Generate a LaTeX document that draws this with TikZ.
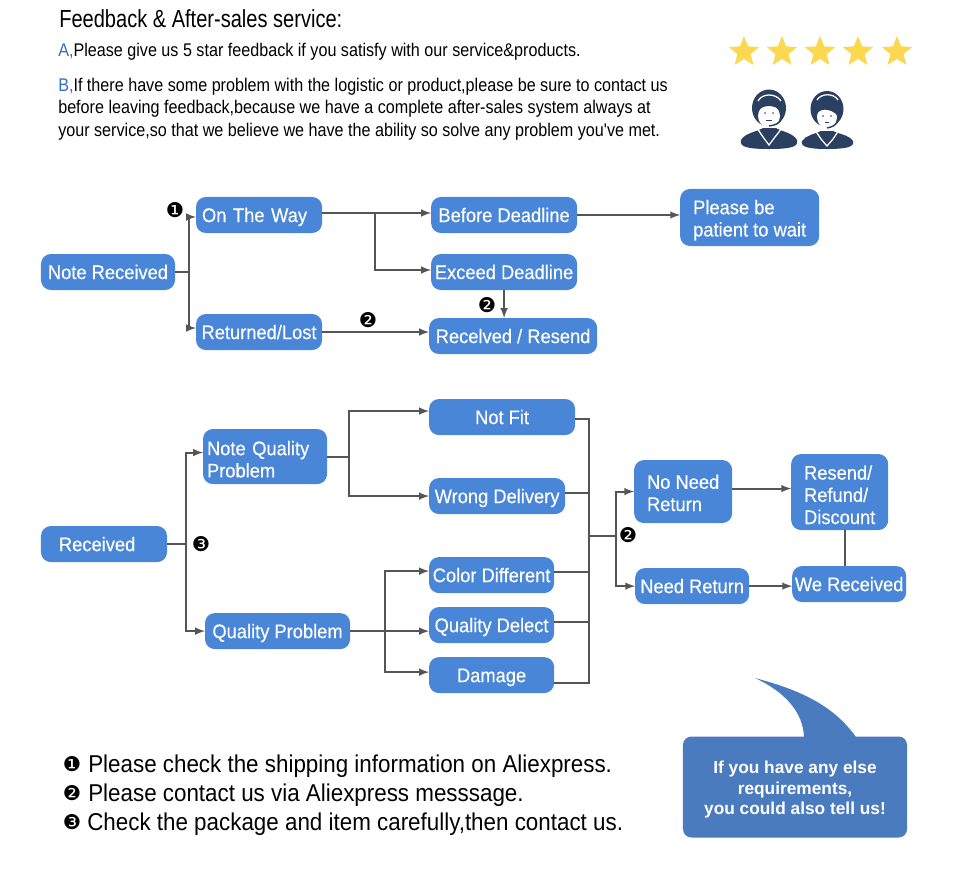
\documentclass[tikz,border=0pt]{standalone}
\usepackage{fontspec}
\setmainfont{Liberation Sans}
\newfontfamily\boxfont[FakeStretch=0.93,FakeBold=0.25]{Liberation Sans}
\newfontfamily\headfont[FakeStretch=0.88]{Liberation Sans}
\newfontfamily\titlefont[FakeStretch=0.81]{Liberation Sans}
\newfontfamily\legendfont[FakeStretch=0.92]{Liberation Sans}
\newfontfamily\dingfont{DejaVu Sans}
\usetikzlibrary{shapes.geometric, arrows.meta, positioning, calc}
\definecolor{boxblue}{HTML}{4A86D8}
\definecolor{linegray}{HTML}{555555}
\definecolor{callblue}{HTML}{4A7BBE}
\definecolor{stargold}{HTML}{FBD84F}
\definecolor{agentnavy}{HTML}{2B4060}
\definecolor{letterblue}{HTML}{2F6FC4}
\newcommand{\toproom}[1]{\rule{0pt}{#1}}

\begin{document}
\begin{tikzpicture}[
      x=0.025cm, y=-0.025cm,
      basebox/.style={fill=boxblue, text=white, rounded corners=7pt, align=center, inner xsep=0pt, inner ysep=0pt,
        outer sep=0pt, minimum height=0.9cm, font=\boxfont\fontsize{14}{15.8}\selectfont},
      flowbox/.style={basebox, text height=13pt, text depth=3pt},
      arrow/.style={-latex, line width=1.4pt, draw=linegray},
      plainline/.style={line width=1.4pt, draw=linegray},
      numlabel/.style={inner sep=0pt, font=\dingfont\fontsize{14.5}{15}\selectfont},
      headline/.style={anchor=base west, inner sep=0pt, font=\headfont\fontsize{13.05}{16}\selectfont, align=left},
      legendline/.style={anchor=base west, inner sep=0pt, font=\legendfont\fontsize{17.3}{18}\selectfont},
      goldstar/.style={star, star points=5, star point ratio=2.3, fill=stargold, minimum size=0.8cm, inner sep=0pt}
    ]
      \useasboundingbox (0,0) rectangle (960,871);

      % Header text
      \node (title) [anchor=base west, inner sep=0pt, font=\titlefont\fontsize{17.6}{18}\selectfont] at (59,27) {Feedback \& After-sales service:};
      \node (pointa) [headline] at (58,56) {\textcolor{letterblue}{A,}Please give us 5 star feedback if you satisfy with our service\&products.};
      \node (pointb) [headline, anchor=north west] at (58,77.5) {\textcolor{letterblue}{B,}If there have some problem with the logistic or product,please be sure to contact us\\
        before leaving feedback,because we have a complete after-sales system always at\\
        your service,so that we believe we have the ability so solve any problem you've met.};

      % Stars
      \node (star1) [goldstar] at (744,52) {};
      \node (star2) [goldstar] at (782,52) {};
      \node (star3) [goldstar] at (820,52) {};
      \node (star4) [goldstar] at (858,52) {};
      \node (star5) [goldstar] at (897,52) {};

      % Agent left
      \fill[agentnavy] (741,140) .. controls (745,133) and (756,132) .. (763,128) -- (776,128) .. controls (783,132) and (793,133) .. (797,140) .. controls (799,147) and (790,149) .. (769,149) .. controls (748,149) and (739,147) .. (741,140);
      \draw[white, line width=0.9pt] (757,128) -- (763,137) -- (769,145) -- (775,137) -- (782,128);
      \fill[agentnavy] (769,108) ellipse [x radius=17, y radius=18.5];
      \fill[white] (769,116) ellipse [x radius=11, y radius=11.5];
      \fill[agentnavy] (757,112) .. controls (762,104) and (776,104) .. (781,112) -- (781,100) -- (757,100) -- cycle;
      \draw[white, line width=0.9pt] (758,101) .. controls (762,93) and (776,93) .. (781,101);
      \draw[agentnavy, line width=1pt] (781,118) .. controls (780,124) and (775,125) .. (769,126);
      \fill[agentnavy] (765,113) circle (0.9) (773,113) circle (0.9);
      \draw[agentnavy, line width=0.5pt] (766,120) -- (772,120);

      % Agent right
      \fill[agentnavy] (802,141) .. controls (806,135) and (815,134) .. (821,131) -- (833,131) .. controls (839,134) and (849,135) .. (853,141) .. controls (855,147) and (846,149) .. (827,149) .. controls (809,149) and (800,147) .. (802,141);
      \draw[white, line width=0.9pt] (815,130) -- (821,139) -- (827,146) -- (833,139) -- (839,130);
      \fill[agentnavy] (827,109) ellipse [x radius=16.5, y radius=18];
      \fill[white] (827,117) ellipse [x radius=10, y radius=11.5];
      \fill[agentnavy] (816,116) .. controls (818,108) and (830,107) .. (838,116) -- (838,100) -- (816,100) -- cycle;
      \draw[white, line width=0.9pt] (817,100) .. controls (821,93) and (834,93) .. (838,100);
      \draw[agentnavy, line width=1pt] (838,120) .. controls (837,125) and (832,127) .. (827,128);
      \fill[agentnavy] (823,116) circle (0.8) (831,116) circle (0.8);
      \draw[agentnavy, line width=0.5pt] (825,122) -- (829,122);

      % Upper flow nodes
      \node (noterecv) [flowbox, minimum width=3.35cm] at (108,272) {Note Received};
      \node (onway) [flowbox, above right=0.525cm and 0.525cm of noterecv, align=left, inner xsep=0.15cm, text width=2.85cm] {On The Way};
      \node (lostnode) [flowbox, below right=0.6cm and 0.525cm of noterecv, minimum width=3.15cm] {Returned/Lost};
      \node (beforedl) [flowbox, right=2.725cm of onway, minimum width=3.65cm] {Before Deadline};
      \node (exceeddl) [flowbox, below=0.525cm of beforedl, minimum width=3.65cm] {Exceed Deadline};
      \node (resendnode) [flowbox, below right=0.7cm and -3.7cm of exceeddl, minimum width=4.2cm] {Recelved / Resend};
      \node (waitnode) [basebox, above right=-1.225cm and 2.575cm of beforedl, minimum width=3.475cm, minimum height=1.425cm, align=left] {\toproom{14pt}Please be\\patient to wait};

      % Lower flow nodes
      \node (recvnode) [flowbox, below right=5.9cm and -3.35cm of noterecv, align=left, inner xsep=0.45cm, text width=2.25cm] {Received};
      \node (noteqp) [basebox, above right=1.05cm and 0.9cm of recvnode, align=left, inner xsep=0.1cm, text width=2.9cm, minimum height=1.375cm] {\toproom{14pt}Note Quality\\Problem};
      \node (qualprob) [flowbox, below right=1.275cm and 0.95cm of recvnode, minimum width=3.625cm] {Quality Problem};
      \node (notfit) [flowbox, above right=-0.15cm and 2.55cm of noteqp, minimum width=3.65cm] {Not Fit};
      \node (wrongdel) [flowbox, below right=-0.15cm and 2.55cm of noteqp, minimum width=3.4cm] {Wrong Delivery};
      \node (colordiff) [flowbox, above right=0.5cm and 1.975cm of qualprob, minimum width=3.125cm] {Color Different};
      \node (qualdel) [flowbox, below=0.35cm of colordiff, minimum width=3.125cm] {Quality Delect};
      \node (damage) [flowbox, below=0.35cm of qualdel, minimum width=3.125cm] {Damage};
      \node (noneed) [basebox, below right=0.625cm and 1.475cm of notfit, minimum width=2.45cm, minimum height=1.575cm, align=left] {\toproom{12pt}No Need\\Return};
      \node (needret) [flowbox, below right=1.125cm and -2.425cm of noneed, minimum width=2.85cm] {Need Return};
      \node (refund) [basebox, above right=-1.75cm and 1.475cm of noneed, minimum width=2.425cm, minimum height=1.9cm, align=left] {\toproom{14pt}Resend/\\Refund/\\Discount};
      \node (werecv) [flowbox, below right=0.9cm and -2.4cm of refund, minimum width=2.85cm] {We Received};

      % Junctions
      \coordinate (upsplit) at (189,272);
      \coordinate (waysplit) at (375,213);
      \coordinate (lowsplit) at (186,544);
      \coordinate (qpsplit) at (349,457);
      \coordinate (qualsplit) at (385,631);
      \coordinate (collect) at (589,536);
      \coordinate (retsplit) at (616,536);
      \coordinate (linkbar) at (845,548);
      \coordinate (wayout) at ($(onway.east)+(0,-2)$);
      \coordinate (delectout) at ($(qualdel.east)+(0,-3)$);
      \coordinate (damageout) at ($(damage.east)+(0,8)$);
      \coordinate (noneedout) at ($(noneed.east)+(0,-3)$);

      % Upper connectors
      \draw[plainline] (noterecv.east) -- (noterecv.east -| upsplit);
      \draw[arrow] (upsplit) |- ($(onway.west)+(0,2)$);
      \draw[arrow] (upsplit) |- ($(lostnode.west)+(0,-4)$);
      \draw[arrow] (wayout) -- (wayout -| beforedl.west);
      \draw[arrow] (waysplit) |- ($(exceeddl.west)+(0,-2)$);
      \draw[arrow] (beforedl.east) -- (beforedl.east -| waitnode.west);
      \draw[arrow] (exceeddl.south) -- (exceeddl.south |- resendnode.north);
      \draw[arrow] (lostnode.east) -- (lostnode.east -| resendnode.west);

      % Lower connectors
      \draw[plainline] (recvnode.east) -- (recvnode.east -| lowsplit);
      \draw[arrow] (lowsplit) |- ($(noteqp.west)+(0,-4)$);
      \draw[arrow] (lowsplit) |- (qualprob.west);
      \draw[plainline] (noteqp.east) -- (noteqp.east -| qpsplit);
      \draw[arrow] (qpsplit) |- ($(notfit.west)+(0,-6)$);
      \draw[arrow] (qpsplit) |- (wrongdel.west);
      \draw[plainline] (qualprob.east) -- (qualprob.east -| qualsplit);
      \draw[arrow] (qualsplit) |- ($(colordiff.west)+(0,-4)$);
      \draw[arrow] (qualprob.east) -- (qualprob.east -| qualdel.west);
      \draw[arrow] (qualsplit) |- ($(damage.west)+(0,-3)$);
      \draw[plainline] ($(notfit.east)+(0,2)$) -| (collect);
      \draw[plainline] ($(wrongdel.east)+(0,-3)$) -- ($(wrongdel.east)+(24,-3)$);
      \draw[plainline] ($(colordiff.east)+(0,-3)$) -- ($(colordiff.east)+(35,-3)$);
      \draw[plainline] (delectout) -- (delectout -| collect);
      \draw[plainline] (damageout) -| (collect);
      \draw[plainline] (collect) -- (retsplit);
      \draw[arrow] (retsplit) |- (noneed.west);
      \draw[arrow] (retsplit) |- (needret.west);
      \draw[arrow] (noneedout) -- (noneedout -| refund.west);
      \draw[arrow] (needret.east) -- (needret.east -| werecv.west);
      \draw[plainline] (refund.south -| linkbar) -- (werecv.north -| linkbar);

      % Number marks
      \node (markone) [numlabel] at (175,210) {❶};
      \node (marktwoa) [numlabel] at (487,305) {❷};
      \node (marktwob) [numlabel] at (368,320) {❷};
      \node (markthree) [numlabel] at (201,544) {❸};
      \node (marktwoc) [numlabel] at (628,535) {❷};

      % Legend
      \node (legendone) [numlabel] at (72,764) {❶};
      \node (legtextone) [legendline] at (88,772) {Please check the shipping information on Aliexpress.};
      \node (legendtwo) [numlabel] at (72,793) {❷};
      \node (legtexttwo) [legendline] at (88,801) {Please contact us via Aliexpress messsage.};
      \node (legendthree) [numlabel] at (72,822) {❸};
      \node (legtextthree) [legendline] at (87,830) {Check the package and item carefully,then contact us.};

      % Callout
      \fill[callblue] (804,737) .. controls (803,712) and (785,692) .. (755,678) .. controls (800,690) and (833,705) .. (856,737) -- cycle;
      \node (callout) [fill=callblue, rounded corners=6pt, minimum width=5.6cm, minimum height=2.525cm, inner sep=0pt, text=white, align=center, font=\bfseries\fontsize{12.3}{14.6}\selectfont] at (795,787) {\toproom{12.5pt}If you have any else\\requirements,\\you could also tell us!};
    \end{tikzpicture}
\end{document}
